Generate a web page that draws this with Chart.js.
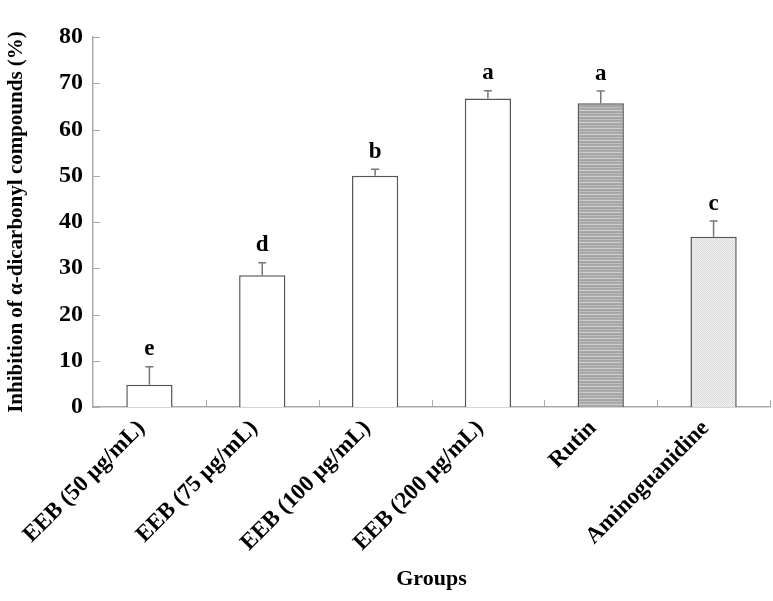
<!DOCTYPE html>
<html>
<head>
<meta charset="utf-8">
<script src="https://cdn.jsdelivr.net/npm/chart.js@4.4.1/dist/chart.umd.min.js"></script>
<style>
  html, body { margin: 0; padding: 0; background: #fff; }
  #wrap { width: 773px; height: 601px; }
</style>
</head>
<body>
<div id="wrap"><canvas id="chart"></canvas></div>
<script>
// Data
const groups = ["EEB (50 μg/mL)", "EEB (75 μg/mL)", "EEB (100 μg/mL)", "EEB (200 μg/mL)", "Rutin", "Aminoguanidine"];
const inhibition = [4.8, 28.5, 50.0, 66.7, 65.7, 36.8];
const errors = [3.9, 2.7, 1.4, 1.7, 2.6, 3.4];
const letters = ["e", "d", "b", "a", "a", "c"];
const yTicks = [0, 10, 20, 30, 40, 50, 60, 70, 80];

const FONT = "'Liberation Serif', 'Times New Roman', serif";

// Fill patterns for the two reference bars
function stripePattern() {
    const c = document.createElement("canvas");
    c.width = 4; c.height = 6;
    const g = c.getContext("2d");
    const rows = ["#a4a4a4", "#adadad", "#cdcdcd", "#a8a8a8", "#a2a2a2", "#c0c0c0"];
    rows.forEach((col, i) => { g.fillStyle = col; g.fillRect(0, i, 4, 1); });
    return g.createPattern(c, "repeat");
}
function dotPattern() {
    const c = document.createElement("canvas");
    c.width = 2; c.height = 2;
    const g = c.getContext("2d");
    g.fillStyle = "#f2f2f2"; g.fillRect(0, 0, 2, 2);
    g.fillStyle = "#dadada"; g.fillRect(0, 0, 1, 1); g.fillRect(1, 1, 1, 1);
    return g.createPattern(c, "repeat");
}

const fills = ["#ffffff", "#ffffff", "#ffffff", "#ffffff", stripePattern(), dotPattern()];

// Error bars (upper whisker only) and significance letters
const errorBarPlugin = {
    id: "errorBars",
    afterDatasetsDraw(chart) {
        const ctx = chart.ctx;
        const y = chart.scales.y;
        const meta = chart.getDatasetMeta(0);
        ctx.save();
        ctx.strokeStyle = "#777";
        ctx.lineWidth = 1.5;
        meta.data.forEach((bar, i) => {
            const top = y.getPixelForValue(inhibition[i] + errors[i]);
            const base = y.getPixelForValue(inhibition[i]);
            ctx.beginPath();
            ctx.moveTo(bar.x, base);
            ctx.lineTo(bar.x, top);
            ctx.moveTo(bar.x - 4, top);
            ctx.lineTo(bar.x + 4, top);
            ctx.stroke();
            ctx.fillStyle = "#000";
            ctx.font = "bold 23px " + FONT;
            ctx.textAlign = "center";
            ctx.textBaseline = "bottom";
            ctx.fillText(letters[i], bar.x, top - 6);
        });
        ctx.restore();
    }
};

// Short tick marks pointing into the plot area
const innerTicksPlugin = {
    id: "innerTicks",
    afterDraw(chart) {
        const ctx = chart.ctx;
        const x = chart.scales.x;
        const y = chart.scales.y;
        const area = chart.chartArea;
        ctx.save();
        ctx.strokeStyle = "#aaa";
        ctx.lineWidth = 1;
        yTicks.forEach(v => {
            const py = Math.round(y.getPixelForValue(v)) + 0.5;
            ctx.beginPath();
            ctx.moveTo(area.left, py);
            ctx.lineTo(area.left + 7, py);
            ctx.stroke();
        });
        for (let i = 0; i < groups.length; i++) {
            const px = Math.round(x.getPixelForValue(i) + (x.getPixelForValue(1) - x.getPixelForValue(0)) / 2) + 0.5;
            ctx.beginPath();
            ctx.moveTo(px, area.bottom);
            ctx.lineTo(px, area.bottom - 7);
            ctx.stroke();
        }
        ctx.restore();
    }
};

new Chart(document.getElementById("chart"), {
    type: "bar",
    data: {
        labels: groups,
        datasets: [{
            data: inhibition,
            backgroundColor: fills,
            borderColor: "#555",
            borderWidth: 1.5,
            barPercentage: 0.41,
            categoryPercentage: 1.0
        }]
    },
    options: {
        responsive: true,
        maintainAspectRatio: false,
        animation: false,
        layout: { padding: { top: 37, right: 3, left: 0, bottom: 8 } },
        plugins: {
            legend: { display: false },
            tooltip: { enabled: false }
        },
        scales: {
            x: {
                grid: { display: false, drawTicks: false },
                border: { color: "#aaa", width: 1.5 },
                ticks: {
                    color: "#000",
                    font: { family: FONT, size: 23, weight: "bold" },
                    minRotation: 45,
                    maxRotation: 45,
                    labelOffset: -8,
                    padding: 8
                },
                title: {
                    display: true,
                    text: "Groups",
                    color: "#000",
                    font: { family: FONT, size: 22, weight: "bold" },
                    padding: { top: 0, bottom: 0 }
                },
                afterFit(s) { s.height = 186; }
            },
            y: {
                min: 0,
                max: 80,
                grid: { display: false, drawTicks: false },
                border: { color: "#aaa", width: 1.5 },
                ticks: {
                    stepSize: 10,
                    color: "#000",
                    font: { family: FONT, size: 24, weight: "bold" },
                    padding: 10
                },
                title: {
                    display: true,
                    text: "Inhibition of α-dicarbonyl compounds (%)",
                    color: "#000",
                    font: { family: FONT, size: 21, weight: "bold" },
                    padding: { top: 4, bottom: 4 }
                },
                afterFit(s) { s.width = 93; }
            }
        }
    },
    plugins: [errorBarPlugin, innerTicksPlugin]
});
</script>
</body>
</html>
